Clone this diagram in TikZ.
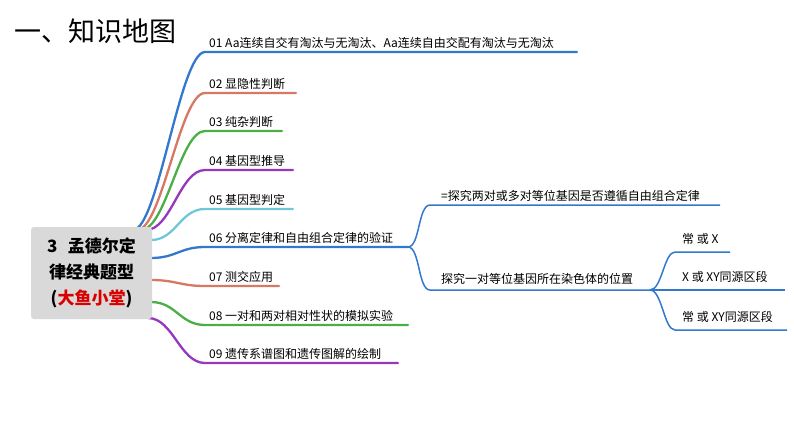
\documentclass[tikz,border=0pt]{standalone}
\usepackage{fontspec}
\setmainfont{Noto Sans CJK SC}
\begin{document}
\begin{tikzpicture}[x=1pt,y=-1pt,
  br/.style={line width=2.3pt,line cap=round},
  lab/.style={anchor=south west,font=\fontsize{12}{13}\selectfont,inner sep=1pt}]
\definecolor{cb}{RGB}{50,120,205}\definecolor{cs}{RGB}{215,120,100}
\definecolor{cg}{RGB}{75,175,70}\definecolor{cp}{RGB}{150,55,190}
\definecolor{cc}{RGB}{110,200,215}
\useasboundingbox (0,0) rectangle (794,447);
\node[anchor=west,font=\fontsize{27}{30}\selectfont,inner sep=0] (t) at (14,31) {一、知识地图};
\foreach \sx/\sy/\y/\e/\c/\n/\txt in {
 133/230/52/577/cb/a/{01 Aa连续自交有淘汰与无淘汰、Aa连续自由交配有淘汰与无淘汰},
 137/230/93/296/cs/b/{02 显隐性判断},
 141/230/131/282/cg/c/{03 纯杂判断},
 146/230/170/293/cp/d/{04 基因型推导},
 151/240/209/293/cc/e/{05 基因型判定},
 151/258/247/408/cb/f/{06 分离定律和自由组合定律的验证},
 151/280/286/279/cs/g/{07 测交应用},
 151/302/325/408/cg/h/{08 一对和两对相对性状的模拟实验},
 148/318/363/398/cp/i/{09 遗传系谱图和遗传图解的绘制}}{
  \coordinate (s\n) at (\sx,\sy);
  \coordinate (m\n) at (205,\y);
  \coordinate (e\n) at (\e,\y);
  \draw[br,draw=\c] (s\n) .. controls (\sx+25,\sy) and (180,\y) .. (m\n) -- (e\n);
  \node[lab] (l\n) at (208,\y-2) {\txt};
}
\node[fill=black!15,rounded corners=3pt,minimum width=121pt,minimum height=92pt,align=center,
  font=\fontsize{17}{26}\selectfont\bfseries] (c) at (91.5,273) {3\hspace{0.6em}孟德尔定\\律经典题型\\(\textcolor{red!85!black}{大鱼小堂})};
\coordinate (p1) at (430,205); \coordinate (q1) at (720,205);
\coordinate (p2) at (430,290); \coordinate (q2) at (650,290);
\draw[line width=1.5pt,cb] (ef) .. controls (420,247) and (418,205) .. (p1) -- (q1);
\draw[line width=1.5pt,cb] (ef) .. controls (420,247) and (418,290) .. (p2) -- (q2);
\node[lab] (r1) at (440,203) {=探究两对或多对等位基因是否遵循自由组合定律};
\node[lab] (r2) at (440,286) {探究一对等位基因所在染色体的位置};
\foreach \y/\e/\n/\txt in {252/730/x/{常 或 X},290/785/y/{X 或 XY同源区段},330/787/z/{常 或 XY同源区段}}{
  \coordinate (u\n) at (675,\y); \coordinate (v\n) at (\e,\y);
  \draw[line width=1.5pt,cb] (q2) .. controls (662,290) and (664,\y) .. (u\n) -- (v\n);
  \node[lab] (w\n) at (681,\y-6) {\txt};
}
\end{tikzpicture}
\end{document}
